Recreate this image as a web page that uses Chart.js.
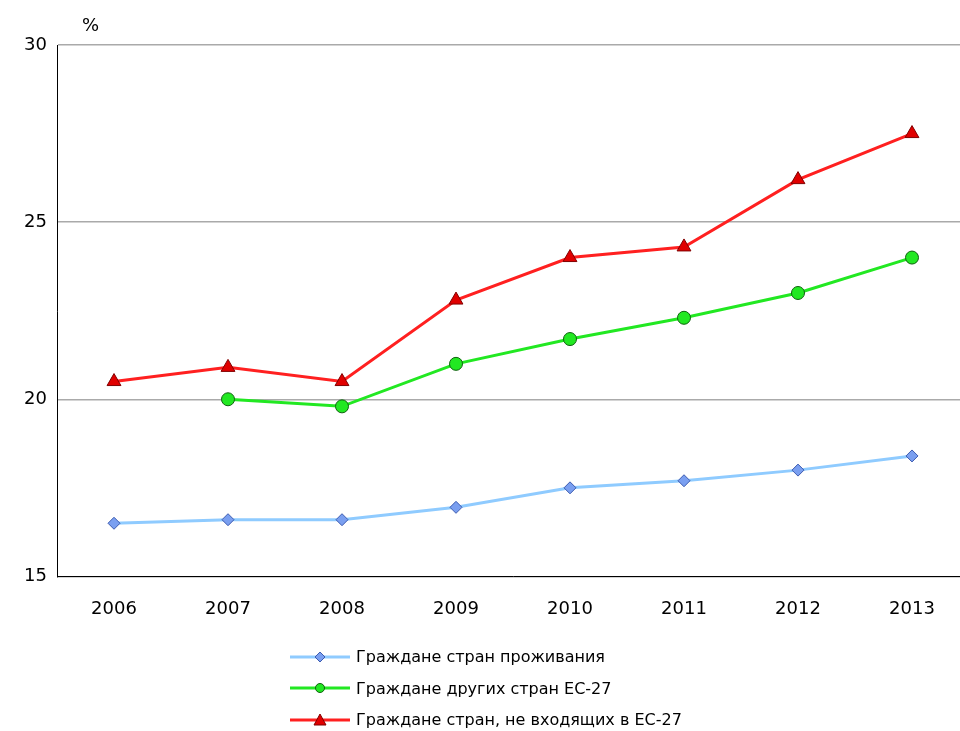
<!DOCTYPE html>
<html><head><meta charset="utf-8">
<script src="https://cdn.jsdelivr.net/npm/chart.js@4"></script>
<style>
body{margin:0;background:#fff;font-family:"DejaVu Sans",sans-serif;}
#wrap{position:relative;width:960px;height:731px;overflow:hidden;}
#c{position:absolute;left:0;top:0;}
#pct{position:absolute;left:82px;top:14px;font-size:18px;}
#legend{position:absolute;left:290px;top:641px;font-size:16px;}
.li{display:flex;align-items:center;height:31.5px;}
.li canvas{margin-right:6px;}
</style></head><body>
<div id="wrap"><canvas id="c" width="978" height="634"></canvas><div id="pct">%</div><div id="legend"></div></div>
<script>
// ── DATA ──────────────────────────────────────────
const YEARS = ['2006','2007','2008','2009','2010','2011','2012','2013'];
const NATIONALS = [16.5,16.6,16.6,16.95,17.5,17.7,18.0,18.4];
const OTHER_EU = [null,20.0,19.8,21.0,21.7,22.3,23.0,24.0];
const NON_EU = [20.5,20.9,20.5,22.8,24.0,24.3,26.2,27.5];
const LABELS = ['Граждане стран проживания','Граждане других стран ЕС-27','Граждане стран, не входящих в ЕС-27'];

const series = [
  {label:LABELS[0],data:NATIONALS,borderColor:'#8fcbff',pointBackgroundColor:'#7a9ff0',pointBorderColor:'#3c5bb0',pointStyle:'rectRot',pointRadius:6},
  {label:LABELS[1],data:OTHER_EU,borderColor:'#22e822',pointBackgroundColor:'#22e822',pointBorderColor:'#106010',pointStyle:'circle',pointRadius:6.5},
  {label:LABELS[2],data:NON_EU,borderColor:'#ff2020',pointBackgroundColor:'#e00000',pointBorderColor:'#800000',pointStyle:'triangle',pointRadius:8},
];

new Chart(document.getElementById('c'),{
  type:'line',
  data:{labels:YEARS,datasets:series.map(s=>({...s,borderWidth:3,pointBorderWidth:1,tension:0,spanGaps:false}))},
  options:{
    responsive:false,animation:false,
    layout:{padding:{top:45,right:0,left:0,bottom:0}},
    plugins:{legend:{display:false},tooltip:{enabled:false}},
    scales:{
      x:{offset:true,grid:{display:false},border:{color:'#000'},ticks:{color:'#000',font:{size:18,family:'DejaVu Sans'},padding:14}},
      y:{min:15,max:30,afterFit:a=>{a.width=57;},ticks:{stepSize:5,color:'#000',font:{size:18,family:'DejaVu Sans'},padding:10},
         grid:{color:'#aaa',lineWidth:1.5,drawTicks:false},border:{color:'#000'}}
    }
  }
});

// ── LEGEND ────────────────────────────────────────
const leg=document.getElementById('legend');
series.forEach(s=>{
  const row=document.createElement('div');row.className='li';
  const cv=document.createElement('canvas');cv.width=60;cv.height=20;
  const x=cv.getContext('2d');x.strokeStyle=s.borderColor;x.lineWidth=3;x.beginPath();x.moveTo(0,10);x.lineTo(60,10);x.stroke();
  x.fillStyle=s.pointBackgroundColor;x.strokeStyle=s.pointBorderColor;x.lineWidth=1;x.beginPath();
  if(s.pointStyle==='circle'){x.arc(30,10,4.5,0,Math.PI*2);}
  else if(s.pointStyle==='rectRot'){x.moveTo(30,5);x.lineTo(35,10);x.lineTo(30,15);x.lineTo(25,10);x.closePath();}
  else{x.moveTo(30,4);x.lineTo(36,15);x.lineTo(24,15);x.closePath();}
  x.fill();x.stroke();
  const t=document.createElement('span');t.textContent=s.label;
  row.appendChild(cv);row.appendChild(t);leg.appendChild(row);
});
</script></body></html>
